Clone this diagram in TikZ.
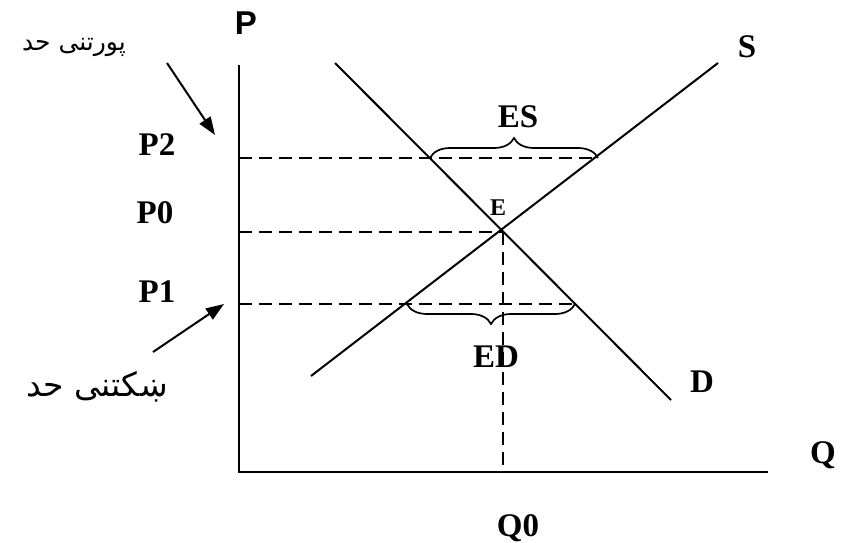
\documentclass[tikz,border=0pt]{standalone}
\usepackage{fontspec}
\setmainfont{Liberation Serif}
\newfontfamily\arabicfont[Script=Arabic]{DejaVu Sans}
\newfontfamily\axisfont{Liberation Sans}
\TeXXeTstate=1
\usetikzlibrary{arrows.meta,decorations.pathreplacing}
\tikzset{
  lbl/.style={font=\fontsize{33}{35}\selectfont\bfseries},
  guide/.style={dash pattern=on 13pt off 7pt, line width=1.6pt},
  curve/.style={line width=2pt},
  pointer/.style={line width=2pt, -{Triangle[length=18pt,width=13pt]}},
  gapbrace/.style={decorate, decoration={brace, amplitude=20pt}, line width=1.7pt},
}
\begin{document}
\begin{tikzpicture}[x=1pt, y=-1pt]
\useasboundingbox (0,0) rectangle (847,542);
% axes
\coordinate (O) at (239,472);
\coordinate (Ptop) at (239,65);
\coordinate (Qend) at (768,472);
\draw[line width=2.4pt] (Ptop) -- (O) -- (Qend);
\node[font=\fontsize{33}{35}\selectfont\axisfont\bfseries] (P) at (246,23) {P};
\node[lbl] (Q) at (823,455) {Q};
% supply and demand
\coordinate (S0) at (311,376);
\coordinate (S1) at (718,63);
\coordinate (D0) at (335,63);
\coordinate (D1) at (671,400);
\draw[curve] (S0) -- (S1);
\draw[curve] (D0) -- (D1);
\node[lbl] (S) at (747,47) {S};
\node[lbl] (D) at (702,382) {D};
% price levels
\coordinate (E) at (503,232);
\coordinate (P2a) at (239,158);
\coordinate (P2d) at (430,158);
\coordinate (P2s) at (598,158);
\coordinate (P0a) at (239,232);
\coordinate (P1a) at (239,304);
\coordinate (P1s) at (407,304);
\coordinate (P1d) at (575,304);
\coordinate (Q0a) at (503,472);
\draw[guide] (P2a) -- (P2s);
\draw[guide] (P0a) -- (E);
\draw[guide] (P1a) -- (P1d);
\draw[guide] (E) -- (Q0a);
\node[lbl] (P2) at (157,145) {P2};
\node[lbl] (P0) at (155,213) {P0};
\node[lbl] (P1) at (157,292) {P1};
\node[lbl] (Q0) at (518,528) {Q0};
\node[font=\fontsize{24}{26}\selectfont\bfseries] (Elbl) at (498,208) {E};
% surplus and shortage
\draw[gapbrace] (P2d) -- (P2s);
\draw[gapbrace] (P1d) -- (P1s);
\node[lbl] (ES) at (518,117) {ES};
\node[lbl] (ED) at (496,357) {ED};
% ceiling and floor
\node[font=\fontsize{25}{27}\selectfont\arabicfont] (top) at (74,47) {\beginR پورتنی حد\endR};
\node[font=\fontsize{33}{35}\selectfont\arabicfont] (bottom) at (97,387) {\beginR ښکتنی حد\endR};
\coordinate (topA) at (167,63);
\coordinate (topB) at (215,135);
\coordinate (botA) at (153,352);
\coordinate (botB) at (224,304);
\draw[pointer] (topA) -- (topB);
\draw[pointer] (botA) -- (botB);
\end{tikzpicture}
\end{document}
